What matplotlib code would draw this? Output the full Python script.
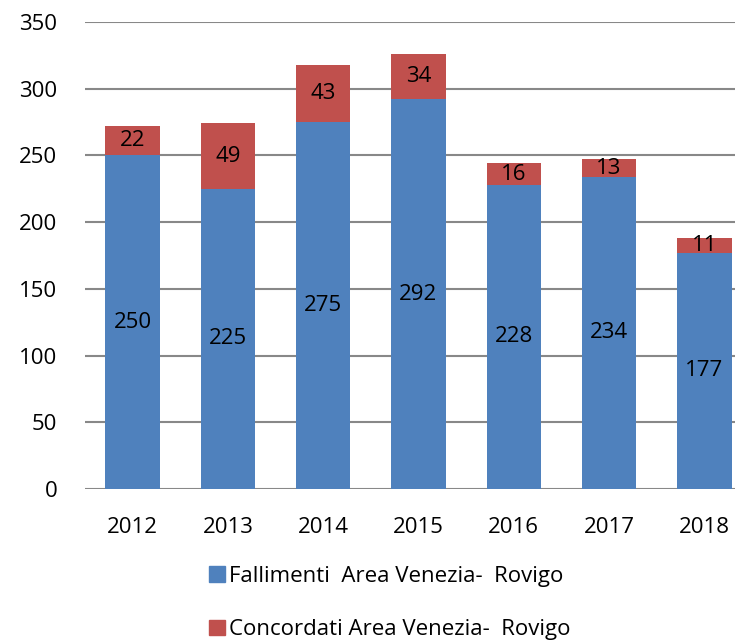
import matplotlib
matplotlib.use("Agg")
import matplotlib.pyplot as plt
from matplotlib.patches import Patch

years = ["2012", "2013", "2014", "2015", "2016", "2017", "2018"]
fallimenti = [250, 225, 275, 292, 228, 234, 177]
concordati = [22, 49, 43, 34, 16, 13, 11]
yticks = [0, 50, 100, 150, 200, 250, 300, 350]

blue = "#4F81BD"
red = "#C0504D"
plt.rcParams['font.family'] = ['Open Sans', 'DejaVu Sans']

W, H = 735, 640
fig = plt.figure(figsize=(W/100, H/100), dpi=100)
left, right = 85, 752
top, bottom = 22, 489
ax = fig.add_axes([left/W, 1 - bottom/H, (right-left)/W, (bottom-top)/H])

x = list(range(len(years)))
ax.bar(x, fallimenti, width=0.57, color=blue, zorder=3)
ax.bar(x, concordati, width=0.57, bottom=fallimenti, color=red, zorder=3)

fs = 16
for i in x:
    ax.text(i, fallimenti[i]/2, str(fallimenti[i]), ha='center', va='center', fontsize=fs, zorder=4)
    ax.text(i, fallimenti[i] + concordati[i]/2, str(concordati[i]), ha='center', va='center', fontsize=fs, zorder=4)

ax.set_xlim(-0.5, len(years)-0.5)
ax.set_ylim(0, 350)
ax.set_yticks(yticks)
ax.set_xticks(x)
ax.set_xticklabels(years)
ax.tick_params(axis='both', length=0, labelsize=fs)
ax.tick_params(axis='x', pad=20)
ax.tick_params(axis='y', pad=20)
ax.yaxis.grid(True, color='#888888', linewidth=1.5, zorder=0)
for s in ax.spines.values():
    s.set_visible(False)

handles = [Patch(color=blue, label="Fallimenti  Area Venezia-  Rovigo"),
           Patch(color=red, label="Concordati Area Venezia-  Rovigo")]
fig.legend(handles=handles, loc='center', bbox_to_anchor=(390/W, 1 - 603/H),
           frameon=False, fontsize=fs, handlelength=0.7, handleheight=0.7,
           handletextpad=0.2, labelspacing=1.45)

fig.savefig("out.png", dpi=100)
